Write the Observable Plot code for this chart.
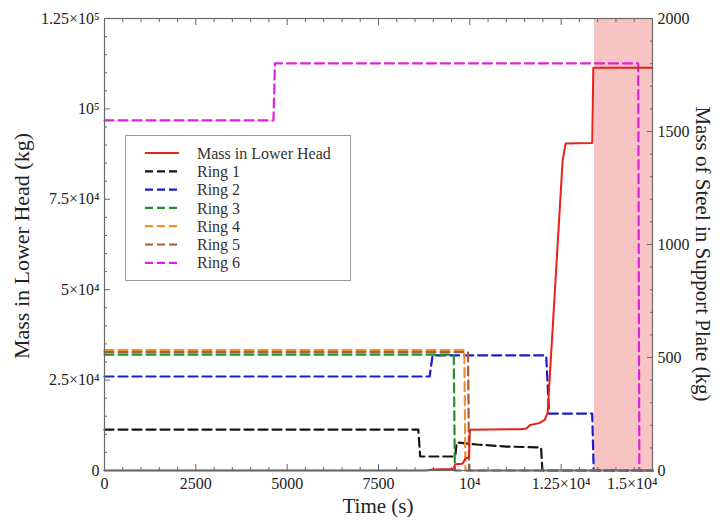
<!DOCTYPE html>
<html><head><meta charset="utf-8">
<script src="https://cdn.jsdelivr.net/npm/d3@7"></script>
<script src="https://cdn.jsdelivr.net/npm/@observablehq/plot@0.6"></script>
<style>
body{margin:0;background:#fff;}
#wrap{position:relative;width:721px;height:520px;font-family:"Liberation Serif","Times New Roman",serif;color:#222;}
.title{position:absolute;font-size:21px;white-space:nowrap;color:#222;}
#legend{position:absolute;left:125px;top:135px;width:226px;height:146px;border:1px solid #9a9a9a;background:#fff;box-sizing:border-box;}
</style></head><body><div id="wrap"></div>
<script>
// ---- data ----
const seriesNames = ["Mass in Lower Head","Ring 1","Ring 2","Ring 3","Ring 4","Ring 5","Ring 6"];
const seriesColors = ["#e8211b","#151515","#1c1ccf","#23912b","#f0912a","#a0603c","#e21fe0"];

// Mass in Lower Head (kg, left axis)
const lowerHeadTime = [0, 8800, 9000, 9550, 9600, 9800, 9880, 9980, 10000, 11400, 11550, 11650, 11900, 12050, 12130, 12540, 12620, 13350, 13380, 15000];
const lowerHeadMass = [0, 0, 300, 400, 1700, 1900, 3300, 3600, 11300, 11400, 11600, 12600, 13100, 14000, 16000, 85700, 90400, 90600, 111400, 111400];

// Mass of steel in support plate rings (kg, right axis)
const ring1Time = [0, 8590, 8640, 9600, 9640, 10200, 11000, 11950, 11985, 15000];
const ring1Mass = [181, 181, 62, 62, 124, 115, 106, 102, 0, 0];
const ring2Time = [0, 8900, 8980, 12090, 12170, 13350, 13390, 15000];
const ring2Mass = [416, 416, 509, 509, 252, 252, 0, 0];
const ring3Time = [0, 9560, 9590, 15000];
const ring3Mass = [513, 513, 0, 0];
const ring4Time = [0, 9850, 9880, 15000];
const ring4Mass = [533, 533, 0, 0];
const ring5Time = [0, 9950, 9980, 15000];
const ring5Mass = [524, 524, 0, 0];
const ring6Time = [0, 4625, 4665, 14610, 14640, 15000];
const ring6Mass = [1549, 1549, 1801, 1801, 0, 0];

// shaded region
const shadeStart = [13410];
const shadeEnd = [15000];

// ticks
const xTickValues = [0, 2500, 5000, 7500, 10000, 12500, 15000];
const xTickLabels = ["0", "2500", "5000", "7500", "10\u2074", "1.25\u00d710\u2074", "1.5\u00d710\u2074"];
const leftTickValues = [0, 25000, 50000, 75000, 100000, 125000];
const leftTickLabels = ["0", "2.5\u00d710\u2074", "5\u00d710\u2074", "7.5\u00d710\u2074", "10\u2075", "1.25\u00d710\u2075"];
const rightTickValues = [0, 500, 1000, 1500, 2000];
const rightTickLabels = ["0", "500", "1000", "1500", "2000"];

const xTitle = "Time (s)";
const leftTitle = "Mass in Lower Head (kg)";
const rightTitle = "Mass of Steel in Support Plate (kg)";

// ---- build ----
const rightMax = 2000, leftMax = 125000, k = leftMax / rightMax;
const toRows = (t, v, s = 1) => t.map((d, i) => ({t: d, v: v[i] * s}));
const ringSeries = [
  [ring1Time, ring1Mass], [ring2Time, ring2Mass], [ring3Time, ring3Mass],
  [ring4Time, ring4Mass], [ring5Time, ring5Mass], [ring6Time, ring6Mass]
].map(([t, v]) => toRows(t, v, k));
const headRows = toRows(lowerHeadTime, lowerHeadMass);

const minorX = d3.range(0, 15001, 500).filter(d => d % 2500 !== 0);
const minorLeft = d3.range(0, 125001, 5000).filter(d => d % 25000 !== 0);
const minorRight = d3.range(0, 2001, 100).filter(d => d % 500 !== 0).map(d => d * k);
const rightPos = rightTickValues.map(d => d * k);
const blank = () => "";
const tickColor = "#666";
const xLabel = (d) => xTickLabels[xTickValues.indexOf(d)];
const xLast = xTickValues.slice(-1);
const xRest = xTickValues.slice(0, -1);

const marks = [
  Plot.rect(shadeStart.map((d, i) => ({x1: d, x2: shadeEnd[i]})), {x1: "x1", x2: "x2", y1: 0, y2: leftMax, fill: "#f8c3c3"}),
  ...ringSeries.map((rows, i) => Plot.line(rows, {x: "t", y: "v", stroke: seriesColors[i + 1], strokeWidth: 2.2, strokeDasharray: "9,5"})),
  Plot.line(headRows, {x: "t", y: "v", stroke: seriesColors[0], strokeWidth: 2}),
  // labels
  Plot.axisX(xRest, {anchor: "bottom", tickSize: 0, tickPadding: 7, tickFormat: xLabel, label: null, fontSize: 16}),
  Plot.axisX(xLast, {anchor: "bottom", tickSize: 0, tickPadding: 7, tickFormat: xLabel, label: null, fontSize: 16, textAnchor: "end", dx: 5}),
  Plot.axisY(leftTickValues, {anchor: "left", tickSize: 0, tickPadding: 5, tickFormat: (d) => leftTickLabels[leftTickValues.indexOf(d)], label: null, fontSize: 16}),
  Plot.axisY(rightPos, {anchor: "right", tickSize: 0, tickPadding: 5, tickFormat: (d) => rightTickLabels[rightPos.indexOf(d)], label: null, fontSize: 16}),
  // inward major ticks
  Plot.axisX(xTickValues, {anchor: "bottom", tickSize: 6, dy: -6, tickFormat: blank, label: null, stroke: tickColor}),
  Plot.axisX(xTickValues, {anchor: "top", tickSize: 6, dy: 6, tickFormat: blank, label: null, stroke: tickColor}),
  Plot.axisY(leftTickValues, {anchor: "left", tickSize: 6, dx: 6, tickFormat: blank, label: null, stroke: tickColor}),
  Plot.axisY(rightPos, {anchor: "right", tickSize: 6, dx: -6, tickFormat: blank, label: null, stroke: tickColor}),
  // inward minor ticks
  Plot.axisX(minorX, {anchor: "bottom", tickSize: 3, dy: -3, tickFormat: blank, label: null, stroke: tickColor}),
  Plot.axisX(minorX, {anchor: "top", tickSize: 3, dy: 3, tickFormat: blank, label: null, stroke: tickColor}),
  Plot.axisY(minorLeft, {anchor: "left", tickSize: 3, dx: 3, tickFormat: blank, label: null, stroke: tickColor}),
  Plot.axisY(minorRight, {anchor: "right", tickSize: 3, dx: -3, tickFormat: blank, label: null, stroke: tickColor}),
  Plot.frame({stroke: "#6a6a6a", strokeWidth: 1.2})
];

const chart = Plot.plot({
  width: 721, height: 520,
  marginLeft: 104, marginRight: 69, marginTop: 18, marginBottom: 50,
  x: {domain: [0, 15000]},
  y: {domain: [0, leftMax]},
  style: {fontFamily: "Liberation Serif, Times New Roman, serif", fontSize: "16px", color: "#222", background: "#fff"},
  marks
});

const wrap = document.getElementById("wrap");
wrap.appendChild(chart);

function addTitle(text, css) {
  const d = document.createElement("div");
  d.className = "title";
  d.textContent = text;
  Object.assign(d.style, css);
  wrap.appendChild(d);
}
addTitle(xTitle, {left: "378px", top: "494px", transform: "translateX(-50%)"});
addTitle(leftTitle, {left: "22px", top: "246px", transform: "translate(-50%,-50%) rotate(-90deg)", fontSize: "22px"});
addTitle(rightTitle, {left: "702px", top: "254px", transform: "translate(-50%,-50%) rotate(90deg)"});

// legend
const legend = document.createElement("div");
legend.id = "legend";
wrap.appendChild(legend);
const lsvg = d3.select(legend).append("svg").attr("width", 224).attr("height", 144)
  .style("font-family", "Liberation Serif, Times New Roman, serif").style("font-size", "16px");
seriesNames.forEach((name, i) => {
  const y = 17 + i * 18.3;
  lsvg.append("line").attr("x1", 19).attr("x2", 53).attr("y1", y).attr("y2", y)
    .attr("stroke", seriesColors[i]).attr("stroke-width", 2.2)
    .attr("stroke-dasharray", i === 0 ? null : "8,4");
  lsvg.append("text").attr("x", 71).attr("y", y).attr("dy", "0.35em").attr("fill", "#333").text(name);
});
</script>
</body></html>
